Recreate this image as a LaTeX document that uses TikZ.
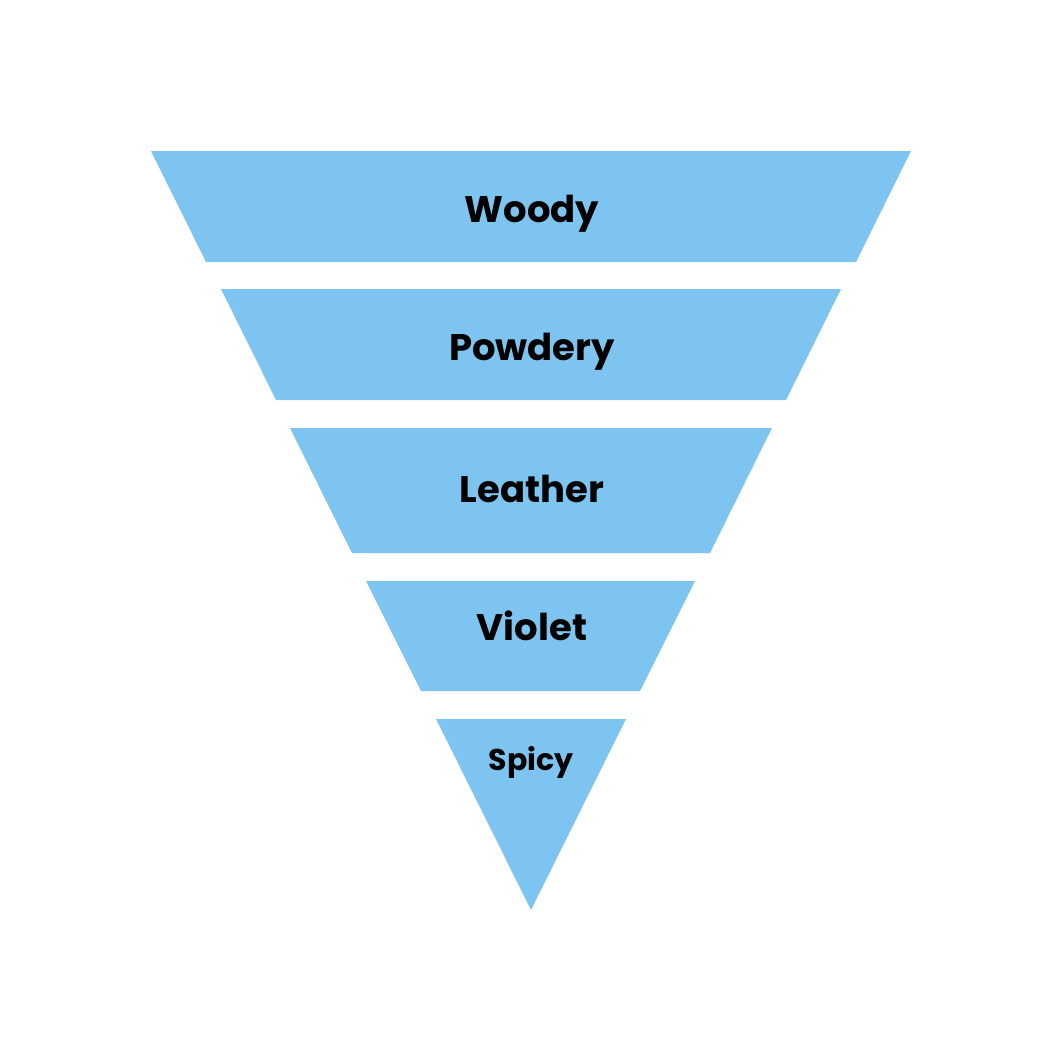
\documentclass[tikz,border=0pt]{standalone}
\usepackage{fontspec}
\setmainfont{Poppins}
\definecolor{fun}{HTML}{7DC5F0}
\begin{document}
\begin{tikzpicture}[x=1pt,y=-1pt,
  seg/.style={fill=fun,draw=none},
  lab/.style={font=\bfseries\fontsize{37}{42}\selectfont,text=black,anchor=center}]
\useasboundingbox (0,0) rectangle (1063,1063);
\fill[white] (0,0) rectangle (1063,1063);
\path[seg] (151,151) -- (911,151) -- (856,262) -- (206,262) -- cycle;
\path[seg] (221,289) -- (841,289) -- (786,400) -- (276,400) -- cycle;
\path[seg] (290,428) -- (772,428) -- (710,553) -- (352,553) -- cycle;
\path[seg] (366,581) -- (695,581) -- (640,691) -- (421,691) -- cycle;
\path[seg] (436,719) -- (626,719) -- (531,910) -- cycle;
\node[lab] (w) at (532,214) {Woody};
\node[lab] (p) at (532,352) {Powdery};
\node[lab] (l) at (532,489) {Leather};
\node[lab] (v) at (532,626) {Violet};
\node[lab,font=\bfseries\fontsize{30}{34}\selectfont] (s) at (531,762) {Spicy};
\end{tikzpicture}
\end{document}
